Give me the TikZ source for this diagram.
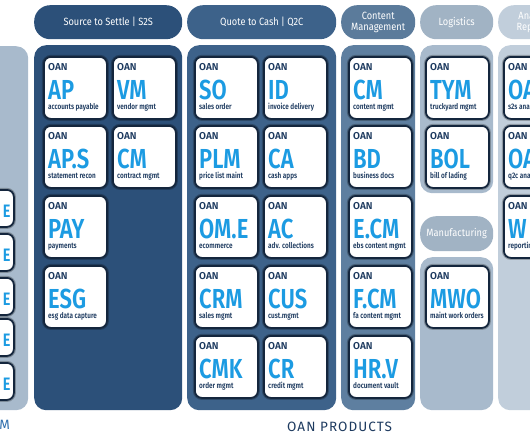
\documentclass[tikz,border=0pt]{standalone}
\usepackage{fontspec}
\setmainfont{Fira Sans}[FakeStretch=0.88]
\newfontfamily\semifont{Fira Sans SemiBold}
\newfontfamily\narrowfont{Fira Sans SemiBold}[FakeStretch=0.8]
\newfontfamily\prodfont{Fira Sans}[LetterSpace=8]
\usepackage{tikz}
\usetikzlibrary{positioning}

\definecolor{navy}{HTML}{1D3A5F}
\definecolor{tileline}{HTML}{14263D}
\definecolor{skyblue}{HTML}{1C9BE2}
\definecolor{s2sblue}{HTML}{2C5079}
\definecolor{q2cblue}{HTML}{3D628A}
\definecolor{cmblue}{HTML}{5E7FA0}
\definecolor{logblue}{HTML}{A8BACC}
\definecolor{anablue}{HTML}{C1CEDB}
\definecolor{platblue}{HTML}{2F6FAE}

\begin{document}
\begin{tikzpicture}[x=1pt, y=1pt,
    panel/.style={anchor=north west, inner sep=0, rounded corners=12pt,
      minimum width=148pt, minimum height=365pt},
    head/.style={anchor=north west, inner sep=0, rounded corners=16pt,
      minimum width=148pt, minimum height=34pt, text=white, align=center,
      font=\fontsize{10.5}{10.5}\selectfont},
    tile/.style={anchor=north west, inner sep=0, fill=white, draw=tileline,
      line width=1.8pt, rounded corners=7pt, minimum width=63pt, minimum height=62pt,
      preaction={draw=black, line width=4pt, opacity=0.25}},
    sidetile/.style={tile, minimum height=37pt},
    oan/.style={anchor=base west, inner sep=0, text=navy, text depth=0pt,
      font=\semifont\fontsize{10}{10}\selectfont},
    abbr/.style={anchor=base west, inner sep=0, text=skyblue, text depth=0pt,
      text height=19pt, font=\narrowfont\fontsize{27.5}{27.5}\selectfont},
    desc/.style={anchor=base west, inner sep=0, text=navy, text height=5pt,
      font=\narrowfont\fontsize{8}{8}\selectfont}
  ]
  \useasboundingbox (0,0) rectangle (530,-442);
  \clip (0,0) rectangle (530,-442);

  % column panels
  \node[panel, fill=logblue, minimum width=88pt, minimum height=364pt] (side) at (-60,-46) {};
  \node[panel, fill=s2sblue] (s2s) at (34,-45) {};
  \node[panel, fill=q2cblue, minimum width=149pt] (q2c) at (187,-45) {};
  \node[panel, fill=cmblue, minimum width=74pt] (cmp) at (341,-45) {};
  \node[panel, fill=logblue, minimum width=73pt, minimum height=148pt] (logp) at (420,-45) {};
  \node[panel, fill=logblue, minimum width=73pt, minimum height=153pt] (mfgp) at (420,-257) {};
  \node[panel, fill=anablue, minimum width=78pt] (anap) at (498,-45) {};

  % column headers
  \node[head, fill=s2sblue] (s2shead) at (34,-5) {Source to Settle | S2S};
  \node[head, fill=q2cblue, minimum width=149pt] (q2chead) at (187,-5) {Quote to Cash | Q2C};
  \node[head, fill=cmblue!97!black, minimum width=74pt] (cmhead) at (341,-5) {Content\\Management};
  \node[head, fill=logblue!96!black, minimum width=73pt] (loghead) at (420,-5) {Logistics};
  \node[head, fill=logblue!96!black, minimum width=73pt, minimum height=35pt] (mfghead) at (420,-216) {Manufacturing};
  \node[head, fill=anablue, minimum width=78pt] (anahead) at (498,-5) {Analytics\\Reporting};

  % product tiles
  \foreach \nm/\x/\y/\ab/\ds in {
      ap/43/56/AP/accounts payable,
      vm/112/56/VM/vendor mgmt,
      aps/43/125/AP.S/statement recon,
      ctm/112/125/CM/contract mgmt,
      pay/43/195/PAY/payments,
      esg/43/265/ESG/esg data capture,
      so/194/56/SO/sales order,
      id/263/56/ID/invoice delivery,
      plm/194/125/PLM/price list maint,
      ca/263/125/CA/cash apps,
      ome/194/195/OM.E/ecommerce,
      ac/263/195/AC/adv. collections,
      crm/194/265/CRM/sales mgmt,
      cus/263/265/CUS/cust.mgmt,
      cmk/194/335/CMK/order mgmt,
      cr/263/335/CR/credit mgmt,
      cnm/348/56/CM/content mgmt,
      bd/348/125/BD/business docs,
      ecm/348/195/E.CM/ebs content mgmt,
      fcm/348/265/F.CM/fa content mgmt,
      hrv/348/335/HR.V/document vault,
      tym/425/56/TYM/truckyard mgmt,
      bol/425/125/BOL/bill of lading,
      mwo/425/265/MWO/maint work orders,
      oas/503/56/OA/s2s analytics,
      oaq/503/125/OA/q2c analytics,
      wrp/503/195/W/reporting} {
    \node[tile] (\nm) at (\x,-\y) {};
    \node[oan] at ([shift={(5,-14)}]\nm.north west) {OAN};
    \node[abbr] at ([shift={(5,-43.5)}]\nm.north west) {\ab};
    \node[desc] at ([shift={(5,-53)}]\nm.north west) {\ds};
  }

  % cut-off tiles of the left column
  \foreach \nm/\y in {sa/189, sb/233, sc/277, sd/318, se/362} {
    \node[sidetile] (\nm) at (-50,-\y) {};
    \node[abbr, anchor=base east, text height=12pt, font=\narrowfont\fontsize{18}{18}\selectfont]
      at ([shift={(-4,-28)}]\nm.north east) {E};
  }

  % footer
  \node[anchor=base east, inner sep=0, text=platblue, font=\prodfont\fontsize{13.5}{13.5}\selectfont]
    (plat) at (10,-429) {M};
  \node[anchor=base west, inner sep=0, text=navy, font=\prodfont\fontsize{13.5}{13.5}\selectfont]
    (prod) at (287,-431) {OAN PRODUCTS};
\end{tikzpicture}
\end{document}
